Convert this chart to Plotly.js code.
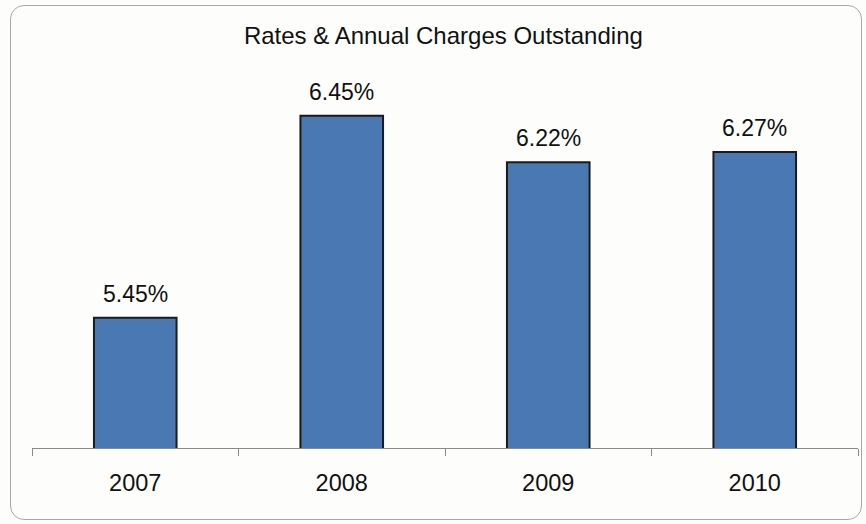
<!DOCTYPE html>
<html>
<head>
<meta charset="utf-8">
<script src="https://cdn.plot.ly/plotly-3.0.1.min.js"></script>
<style>
  html, body { margin: 0; padding: 0; background: #fdfdfb; }
  #frame { position: absolute; left: 10px; top: 5px; width: 852px; height: 515px;
           border: 1.5px solid #a8a8a8; border-radius: 14px; box-sizing: border-box; }
  #chart { position: absolute; left: 0; top: 0; width: 866px; height: 524px; }
</style>
</head>
<body>
<div id="frame"></div>
<div id="chart"></div>
<script>
const years = ["2007", "2008", "2009", "2010"];
const rates = [5.45, 6.45, 6.22, 6.27];
const labels = ["5.45%", "6.45%", "6.22%", "6.27%"];

const trace = {
  type: "bar",
  x: years,
  y: rates,
  marker: { color: "#4a78b2", line: { color: "#1b1b1b", width: 2 } },
  hoverinfo: "skip"
};

const annotations = years.map((y, i) => ({
  x: i, y: rates[i], xref: "x", yref: "y",
  text: labels[i], showarrow: false, yanchor: "bottom", yshift: 9,
  font: { family: "Liberation Sans, Arial, sans-serif", size: 23, color: "#111" }
}));

const layout = {
  width: 866, height: 524,
  margin: { l: 32, r: 8, t: 45, b: 76 },
  paper_bgcolor: "rgba(0,0,0,0)",
  plot_bgcolor: "rgba(0,0,0,0)",
  bargap: 0.6,
  showlegend: false,
  title: { text: "Rates &amp; Annual Charges Outstanding", x: 0.512, xanchor: "center", y: 0.933, yanchor: "middle",
           font: { family: "Liberation Sans, Arial, sans-serif", size: 24, color: "#111" } },
  xaxis: {
    type: "category", range: [-0.5, years.length - 0.5], autorange: false,
    showline: true, linecolor: "#8a8a8a", linewidth: 1,
    ticks: "outside", tickson: "boundaries", ticklen: 7, tickcolor: "#8a8a8a",
    ticklabelstandoff: 14,
    tickfont: { family: "Liberation Sans, Arial, sans-serif", size: 23.5, color: "#111" },
    showgrid: false, zeroline: false
  },
  yaxis: { range: [4.806, 6.8], autorange: false, visible: false, showgrid: false, zeroline: false },
  annotations: annotations
};

Plotly.newPlot("chart", [trace], layout, { displayModeBar: false, staticPlot: true });
</script>
</body>
</html>
